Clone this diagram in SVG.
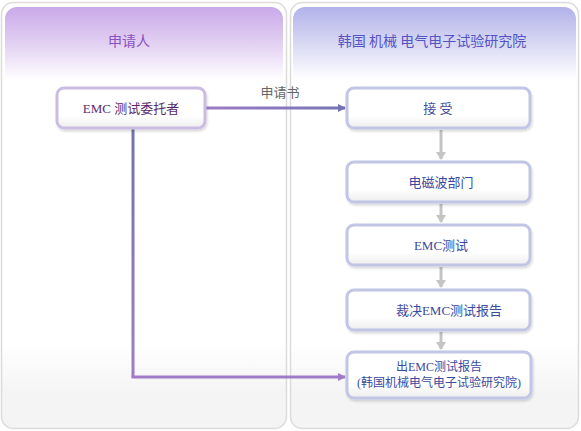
<svg xmlns="http://www.w3.org/2000/svg" width="581" height="431" viewBox="0 0 581 431">
<defs>
<linearGradient id="panelBg" x1="0" y1="0" x2="0" y2="1">
<stop offset="0" stop-color="#ffffff"/><stop offset="0.8" stop-color="#ffffff"/><stop offset="0.92" stop-color="#f4f4f4"/><stop offset="1" stop-color="#f4f4f4"/>
</linearGradient>
<linearGradient id="hdrL" x1="0" y1="0" x2="0" y2="1">
<stop offset="0" stop-color="#c9a9e9"/><stop offset="0.5" stop-color="#e2d0f2"/><stop offset="1" stop-color="#ffffff"/>
</linearGradient>
<linearGradient id="hdrR" x1="0" y1="0" x2="0" y2="1">
<stop offset="0" stop-color="#b2b2ea"/><stop offset="0.5" stop-color="#d8d8f4"/><stop offset="1" stop-color="#ffffff"/>
</linearGradient>
<linearGradient id="nodeBg" x1="0" y1="0" x2="0" y2="1">
<stop offset="0" stop-color="#ffffff"/><stop offset="0.7" stop-color="#ffffff"/><stop offset="1" stop-color="#ededed"/>
</linearGradient>
<linearGradient id="lineH" x1="205" y1="0" x2="347" y2="0" gradientUnits="userSpaceOnUse">
<stop offset="0" stop-color="#9c7cc4"/><stop offset="1" stop-color="#7474b4"/>
</linearGradient>
<linearGradient id="lineV" x1="0" y1="128" x2="0" y2="377" gradientUnits="userSpaceOnUse">
<stop offset="0" stop-color="#7272b2"/><stop offset="1" stop-color="#a07cc8"/>
</linearGradient>
<marker id="arrP" markerWidth="8" markerHeight="8" refX="7" refY="4" orient="auto" markerUnits="userSpaceOnUse">
<path d="M0,0 L8,4 L0,8 Z" fill="#7474b4"/>
</marker>
<marker id="arrQ" markerWidth="8" markerHeight="8" refX="7" refY="4" orient="auto" markerUnits="userSpaceOnUse">
<path d="M0,0 L8,4 L0,8 Z" fill="#a07cc8"/>
</marker>
<marker id="arrG" markerWidth="8" markerHeight="10" refX="7" refY="5" orient="auto" markerUnits="userSpaceOnUse">
<path d="M0,0 L8,5 L0,10 Z" fill="#c4c4c4"/>
</marker>
<filter id="sh" x="-10%" y="-10%" width="125%" height="140%">
<feDropShadow dx="1" dy="2" stdDeviation="1.2" flood-color="#000" flood-opacity="0.15"/>
</filter>
</defs>
<style>
.panel{fill:url(#panelBg);stroke:#dcdcdc;stroke-width:1.5}
.node rect{fill:url(#nodeBg);stroke-width:3;filter:url(#sh)}
.nl rect{stroke:#cbbde2}
.nr rect{stroke:#c2c6e6}
text{font-family:"Liberation Serif","Noto Sans CJK SC",serif;font-size:13px;text-anchor:middle}
.hd{font-family:"Noto Sans CJK SC",sans-serif;font-size:14px}
.tl{fill:#5a2a70}
.tr{fill:#3a4aa0}
.gray{stroke:#c4c4c4;stroke-width:3;fill:none}
</style>

<g id="panels">
<rect class="panel" x="1.5" y="2.5" width="285" height="426" rx="12"/>
<rect class="panel" x="290.5" y="2.5" width="288" height="426" rx="12"/>
<path d="M5,80 V19 a12,12 0 0 1 12,-12 H271 a12,12 0 0 1 12,12 V80 Z" fill="url(#hdrL)"/>
<path d="M293,80 V19 a12,12 0 0 1 12,-12 H564 a12,12 0 0 1 12,12 V80 Z" fill="url(#hdrR)"/>
<text class="hd" x="129" y="46" fill="#8a50c0">申请人</text>
<text class="hd" x="432" y="46" fill="#5454c4">韩国 机械 电气电子试验研究院</text>
</g>

<g id="connectors">
<line x1="205" y1="108" x2="345" y2="108" stroke="url(#lineH)" stroke-width="3" marker-end="url(#arrP)"/>
<text x="280" y="97" style="font-family:'Noto Sans CJK SC',sans-serif;font-size:13px" fill="#666">申请书</text>
<line x1="133" y1="128" x2="133" y2="377" stroke="url(#lineV)" stroke-width="3"/>
<line x1="131.5" y1="377" x2="345" y2="377" stroke="#a07cc8" stroke-width="3" marker-end="url(#arrQ)"/>
<line class="gray" x1="441" y1="130" x2="441" y2="159" marker-end="url(#arrG)"/>
<line class="gray" x1="441" y1="204" x2="441" y2="222" marker-end="url(#arrG)"/>
<line class="gray" x1="441" y1="267" x2="441" y2="287" marker-end="url(#arrG)"/>
<line class="gray" x1="441" y1="332" x2="441" y2="349" marker-end="url(#arrG)"/>
</g>

<g id="n_client" class="node nl">
<rect x="57" y="88" width="148" height="40" rx="7"/>
<text class="tl" x="131" y="113">EMC 测试委托者</text>
</g>
<g id="n_accept" class="node nr">
<rect x="347" y="88" width="183" height="40" rx="7"/>
<text class="tr" x="438" y="113">接 受</text>
</g>
<g id="n_emw" class="node nr">
<rect x="347" y="162" width="183" height="40" rx="7"/>
<text class="tr" x="441" y="187">电磁波部门</text>
</g>
<g id="n_test" class="node nr">
<rect x="347" y="225" width="183" height="40" rx="7"/>
<text class="tr" x="441" y="250">EMC测试</text>
</g>
<g id="n_judge" class="node nr">
<rect x="347" y="290" width="183" height="40" rx="7"/>
<text class="tr" x="449" y="315">裁决EMC测试报告</text>
</g>
<g id="n_issue" class="node nr">
<rect x="347" y="352" width="184" height="46" rx="7"/>
<text class="tr" x="439" y="371" style="font-size:12px">出EMC测试报告</text>
<text class="tr" x="439" y="387" style="font-size:12px">(韩国机械电气电子试验研究院)</text>
</g>
</svg>
